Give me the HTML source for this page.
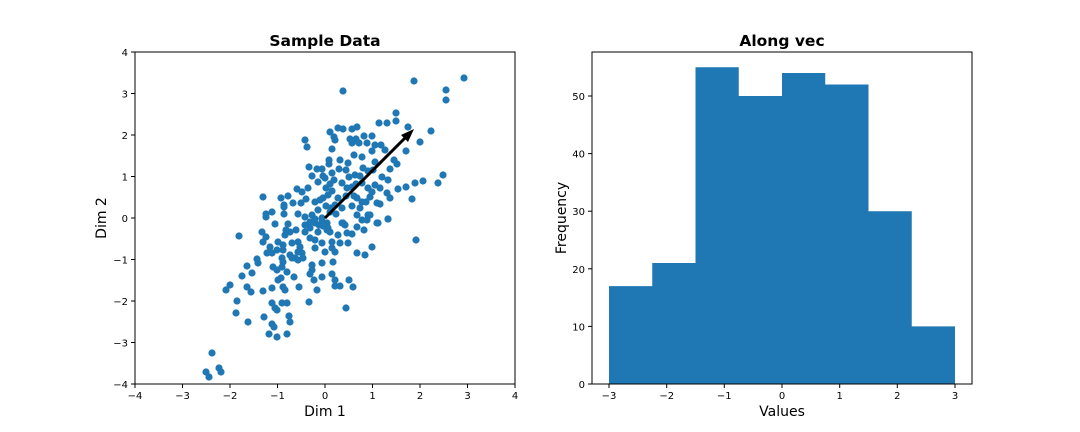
<!DOCTYPE html>
<html><head><meta charset="utf-8"><style>
body{margin:0;background:#fff}
svg{display:block;font-family:"DejaVu Sans","Liberation Sans",sans-serif}
.t{font-size:10px;fill:#000}
</style></head><body>
<svg id="s" width="1080" height="432" viewBox="0 0 1080 432">
<rect width="1080" height="432" fill="#fff"/>
<g id="pts" fill="#1f77b4"></g>
<line x1="325" y1="218" x2="406" y2="137" stroke="#000" stroke-width="3"/>
<polygon points="414,129 401,135 408,142" fill="#000"/>
<rect x="135" y="52" width="380" height="332" fill="none" stroke="#000" stroke-width="1"/>
<g stroke="#000">
<line x1="135" y1="384" x2="135" y2="388"/><line x1="182.5" y1="384" x2="182.5" y2="388"/><line x1="230" y1="384" x2="230" y2="388"/><line x1="277.5" y1="384" x2="277.5" y2="388"/><line x1="325" y1="384" x2="325" y2="388"/><line x1="372.5" y1="384" x2="372.5" y2="388"/><line x1="420" y1="384" x2="420" y2="388"/><line x1="467.5" y1="384" x2="467.5" y2="388"/><line x1="515" y1="384" x2="515" y2="388"/>
<line x1="131" y1="52" x2="135" y2="52"/><line x1="131" y1="93.5" x2="135" y2="93.5"/><line x1="131" y1="135" x2="135" y2="135"/><line x1="131" y1="176.5" x2="135" y2="176.5"/><line x1="131" y1="218" x2="135" y2="218"/><line x1="131" y1="259.5" x2="135" y2="259.5"/><line x1="131" y1="301" x2="135" y2="301"/><line x1="131" y1="342.5" x2="135" y2="342.5"/><line x1="131" y1="384" x2="135" y2="384"/>
</g>
<g class="t" text-anchor="middle">
<text x="135" y="399">−4</text><text x="182.5" y="399">−3</text><text x="230" y="399">−2</text><text x="277.5" y="399">−1</text><text x="325" y="399">0</text><text x="372.5" y="399">1</text><text x="420" y="399">2</text><text x="467.5" y="399">3</text><text x="515" y="399">4</text>
</g>
<g class="t" text-anchor="end">
<text x="128" y="56">4</text><text x="128" y="97.5">3</text><text x="128" y="139">2</text><text x="128" y="180.5">1</text><text x="128" y="222">0</text><text x="128" y="263.5">−1</text><text x="128" y="305">−2</text><text x="128" y="346.5">−3</text><text x="128" y="388">−4</text>
</g>
<text x="325" y="46" text-anchor="middle" font-size="15.5" font-weight="bold">Sample Data</text>
<text x="325" y="416" text-anchor="middle" font-size="14">Dim 1</text>
<text transform="translate(106,218) rotate(-90)" text-anchor="middle" font-size="14">Dim 2</text>
<path fill="#1f77b4" d="M609,384 V286.1 H652.25 V263 H695.5 V67.2 H738.75 V96 H782 V73 H825.25 V84.5 H868.5 V211.2 H911.75 V326.4 H955 V384 Z"/>
<rect x="592" y="52" width="380" height="332" fill="none" stroke="#000" stroke-width="1"/>
<g stroke="#000">
<line x1="609" y1="384" x2="609" y2="388"/><line x1="666.7" y1="384" x2="666.7" y2="388"/><line x1="724.3" y1="384" x2="724.3" y2="388"/><line x1="782" y1="384" x2="782" y2="388"/><line x1="839.7" y1="384" x2="839.7" y2="388"/><line x1="897.3" y1="384" x2="897.3" y2="388"/><line x1="955" y1="384" x2="955" y2="388"/>
<line x1="588" y1="384" x2="592" y2="384"/><line x1="588" y1="326.4" x2="592" y2="326.4"/><line x1="588" y1="268.8" x2="592" y2="268.8"/><line x1="588" y1="211.2" x2="592" y2="211.2"/><line x1="588" y1="153.6" x2="592" y2="153.6"/><line x1="588" y1="96" x2="592" y2="96"/>
</g>
<g class="t" text-anchor="middle">
<text x="609" y="399">−3</text><text x="666.7" y="399">−2</text><text x="724.3" y="399">−1</text><text x="782" y="399">0</text><text x="839.7" y="399">1</text><text x="897.3" y="399">2</text><text x="955" y="399">3</text>
</g>
<g class="t" text-anchor="end">
<text x="585" y="388">0</text><text x="585" y="330.4">10</text><text x="585" y="272.8">20</text><text x="585" y="215.2">30</text><text x="585" y="157.6">40</text><text x="585" y="100">50</text>
</g>
<text x="782" y="46" text-anchor="middle" font-size="15.5" font-weight="bold">Along vec</text>
<text x="782" y="416" text-anchor="middle" font-size="14">Values</text>
<text transform="translate(566,218) rotate(-90)" text-anchor="middle" font-size="14">Frequency</text>
</svg>
<script>
var P=[343,91,414,81,464,78,446,90,446,100,396,113,396,121,379,123,387,123,408,127,431,131,420,142,406,151,397,164,443,175,438,183,423,181,415,183,406,187,398,189,412,199,388,219,378,223,
330,132,338,128,343,129,352,129,357,127,305,140,307,147,334,137,335,140,332,149,350,139,356,139,352,143,359,143,367,143,375,145,381,145,372,151,385,150,354,155,362,157,340,160,348,163,329,160,329,164,375,162,363,168,309,167,317,169,322,169,312,176,323,176,332,173,339,169,349,177,355,175,368,171,373,170,382,177,388,180,330,184,326,188,332,191,342,183,347,188,352,187,362,183,368,188,375,185,380,188,297,189,302,192,263,197,281,198,284,205,284,207,293,203,301,203,315,202,323,198,328,195,335,205,342,208,357,198,362,202,370,197,377,203,387,193,390,198,266,214,266,217,275,224,288,224,298,214,305,217,310,222,315,223,322,218,327,223,343,223,357,215,368,215,367,220,
239,236,312,215,315,219,305,225,305,232,310,228,322,222,323,226,327,230,330,232,338,235,347,233,342,223,345,225,357,227,362,220,370,215,377,223,388,219,416,240,262,232,266,237,263,242,270,247,278,242,283,245,285,235,292,243,267,253,272,253,277,250,283,250,298,242,300,247,298,252,302,253,315,240,322,243,315,248,325,252,332,242,335,252,340,243,357,253,365,255,372,247,333,262,322,263,312,265,312,270,310,274,295,258,298,260,303,258,290,255,292,258,282,258,283,262,273,267,277,270,282,267,287,272,294,277,257,259,258,263,247,266,252,273,242,276,278,280,281,278,283,287,285,290,272,288,263,291,299,287,314,280,322,277,332,274,335,280,335,286,340,286,349,280,353,287,317,290,230,285,226,290,247,287,251,292,237,301,236,313,248,322,272,303,282,303,287,303,275,308,277,310,264,317,289,316,290,322,309,302,346,308,272,324,274,327,269,334,277,337,287,334,212,353,206,372,209,377,219,368,221,372,
318,210,320,200,326,206,330,212,336,214,319,225,328,228,331,208,338,198,346,196,352,206,360,208,366,202,372,192,380,204,354,196,325,178,334,180,318,182,346,170,360,176,356,184,390,169,394,160,372,136,364,136,306,199,308,188,288,196,272,212,286,230,296,230,318,232,284,214,364,230,348,243,332,248,352,234,310,238,290,232];
var g=document.getElementById('pts'),h='';
for(var i=0;i<P.length;i+=2)h+='<circle cx="'+P[i]+'" cy="'+P[i+1]+'" r="3.6"/>';
g.innerHTML=h;
</script>
</body></html>
